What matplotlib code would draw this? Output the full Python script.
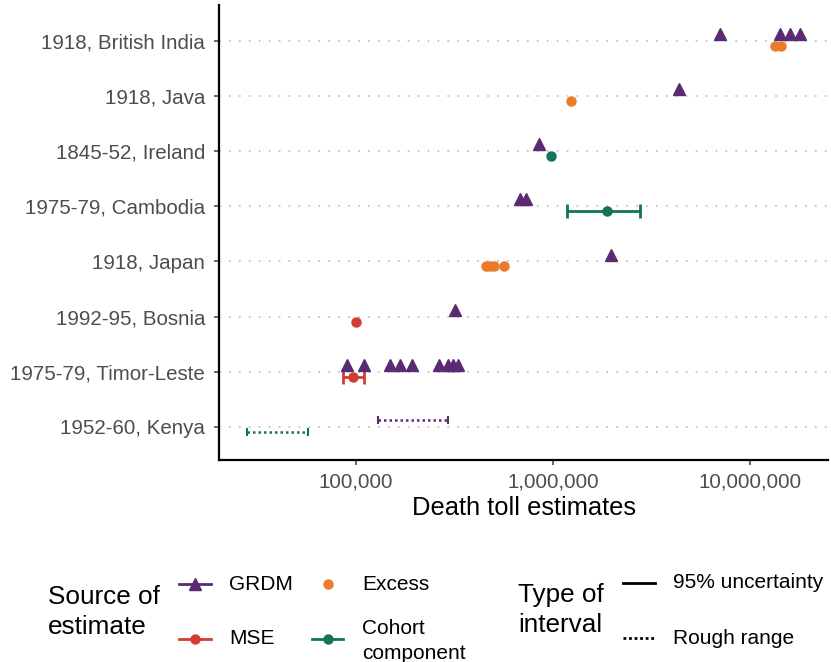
import matplotlib.pyplot as plt
from matplotlib.lines import Line2D
import numpy as np

plt.rcParams["font.family"] = ["Liberation Sans", "DejaVu Sans"]

categories = [
    "1952-60, Kenya",
    "1975-79, Timor-Leste",
    "1992-95, Bosnia",
    "1918, Japan",
    "1975-79, Cambodia",
    "1845-52, Ireland",
    "1918, Java",
    "1918, British India",
]

# GRDM point estimates
grdm_cat = (["1918, British India"] * 4 + ["1918, Java", "1845-52, Ireland"]
            + ["1975-79, Cambodia"] * 2 + ["1918, Japan", "1992-95, Bosnia"]
            + ["1975-79, Timor-Leste"] * 9)
grdm_val = [7.05e6, 14.2e6, 16.0e6, 17.9e6,
            4.37e6, 850e3,
            680e3, 730e3,
            1.97e6, 318e3,
            90e3, 110e3, 149e3, 167e3, 192e3, 265e3, 294e3, 310e3, 330e3]

# excess mortality estimates
excess_cat = (["1918, British India"] * 2 + ["1918, Java"] + ["1918, Japan"] * 4)
excess_val = [13.4e6, 14.4e6, 1.23e6, 455e3, 480e3, 502e3, 565e3]

# multiple systems estimation
mse_cat = ["1992-95, Bosnia", "1975-79, Timor-Leste"]
mse_val = [100e3, 97e3]
mse_lo = [np.nan, 86e3]
mse_hi = [np.nan, 110e3]

# cohort component
cohort_cat = ["1845-52, Ireland", "1975-79, Cambodia"]
cohort_val = [980e3, 1.88e6]
cohort_lo = [np.nan, 1.18e6]
cohort_hi = [np.nan, 2.77e6]

# rough ranges (Kenya)
range_grdm = (130e3, 295e3)
range_cohort = (28e3, 57e3)

x_ticks = [1e5, 1e6, 1e7]
x_ticklabels = ["100,000", "1,000,000", "10,000,000"]

purple = "#5b2a72"
orange = "#eb7a2a"
red = "#d23d31"
green = "#147458"

W, H = 831, 662
fig = plt.figure(figsize=(W / 100, H / 100), dpi=100)
ax = fig.add_axes([219 / W, 1 - 460 / H, (828 - 219) / W, (460 - 5) / H])

ypos = {c: i + 1 for i, c in enumerate(categories)}
up, down = 0.125, -0.09

for c in categories:
    ax.axhline(ypos[c], color="#c4c4c4", lw=1.3, ls=(0, (1, 4.5)), zorder=0)

ax.plot(grdm_val, [ypos[c] + up for c in grdm_cat], "^", color=purple, ms=9,
        ls="none", zorder=3)
ax.plot(excess_val, [ypos[c] + down for c in excess_cat], "o", color=orange,
        ms=6.5, ls="none", zorder=3)


def with_bars(cats, vals, lo, hi, color):
    y = [ypos[c] + down for c in cats]
    for yy, v, l, h in zip(y, vals, lo, hi):
        if not np.isnan(l):
            ax.errorbar(v, yy, xerr=[[v - l], [h - v]], fmt="none", ecolor=color,
                        elinewidth=2, capsize=5, capthick=2, zorder=2)
    ax.plot(vals, y, "o", color=color, ms=6.5, ls="none", zorder=3)


with_bars(mse_cat, mse_val, mse_lo, mse_hi, red)
with_bars(cohort_cat, cohort_val, cohort_lo, cohort_hi, green)

for rng, off, color in [(range_grdm, up, purple), (range_cohort, down, green)]:
    y = ypos["1952-60, Kenya"] + off
    mid = np.sqrt(rng[0] * rng[1])
    eb = ax.errorbar(mid, y, xerr=[[mid - rng[0]], [rng[1] - mid]], fmt="none",
                     ecolor=color, elinewidth=1.8, capsize=3, capthick=1.5)
    eb[2][0].set_linestyle((0, (1, 1.2)))

ax.set_xscale("log")
ax.set_xlim(20200, 24.9e6)
ax.set_ylim(0.4, 8.65)
ax.set_xticks(x_ticks)
ax.set_xticklabels(x_ticklabels)
ax.minorticks_off()
ax.set_yticks([ypos[c] for c in categories])
ax.set_yticklabels(categories)
ax.tick_params(labelsize=14.8, colors="#4d4d4d", labelcolor="#4d4d4d", length=3.5,
               width=1.2)
ax.tick_params(axis="y", pad=6.5)
ax.tick_params(axis="x", pad=5.5)
for s in ["top", "right"]:
    ax.spines[s].set_visible(False)
for s in ["left", "bottom"]:
    ax.spines[s].set_linewidth(1.6)
ax.set_xlabel("Death toll estimates", fontsize=18.4, labelpad=3)


# legend drawn by hand, ggplot style (title at the left)
def fx(px):
    return px / W


def fy(py):
    return 1 - py / H


def key(x0, x1, y, color, marker=None, ls="-", line=True, ms=6.5):
    if line:
        fig.add_artist(Line2D([fx(x0), fx(x1)], [fy(y), fy(y)], color=color,
                              lw=2, ls=ls, transform=fig.transFigure))
    if marker:
        fig.add_artist(Line2D([fx((x0 + x1) / 2)], [fy(y)], marker=marker,
                              color=color, ms=ms, transform=fig.transFigure))


fs_title = 18.8
fs_item = 15
fig.text(fx(48), fy(612), "Source of\nestimate", fontsize=fs_title, va="center",
         linespacing=1.3)
key(179, 211, 584, purple, "^", ms=8)
fig.text(fx(229), fy(584), "GRDM", fontsize=fs_item, va="center")
key(312, 343, 584, orange, "o", line=False)
fig.text(fx(362), fy(584), "Excess", fontsize=fs_item, va="center")
key(179, 211, 639, red, "o")
fig.text(fx(229), fy(639), "MSE", fontsize=fs_item, va="center")
key(312, 343, 639, green, "o")
fig.text(fx(362), fy(641), "Cohort\ncomponent", fontsize=fs_item, va="center",
         linespacing=1.35)

fig.text(fx(518), fy(610), "Type of\ninterval", fontsize=fs_title, va="center",
         linespacing=1.3)
key(623, 655, 583, "black")
fig.text(fx(673), fy(583), "95% uncertainty", fontsize=fs_item, va="center")
key(623, 655, 638, "black", ls=(0, (1, 1)))
fig.text(fx(673), fy(638), "Rough range", fontsize=fs_item, va="center")

fig.savefig("out.png", dpi=100)
